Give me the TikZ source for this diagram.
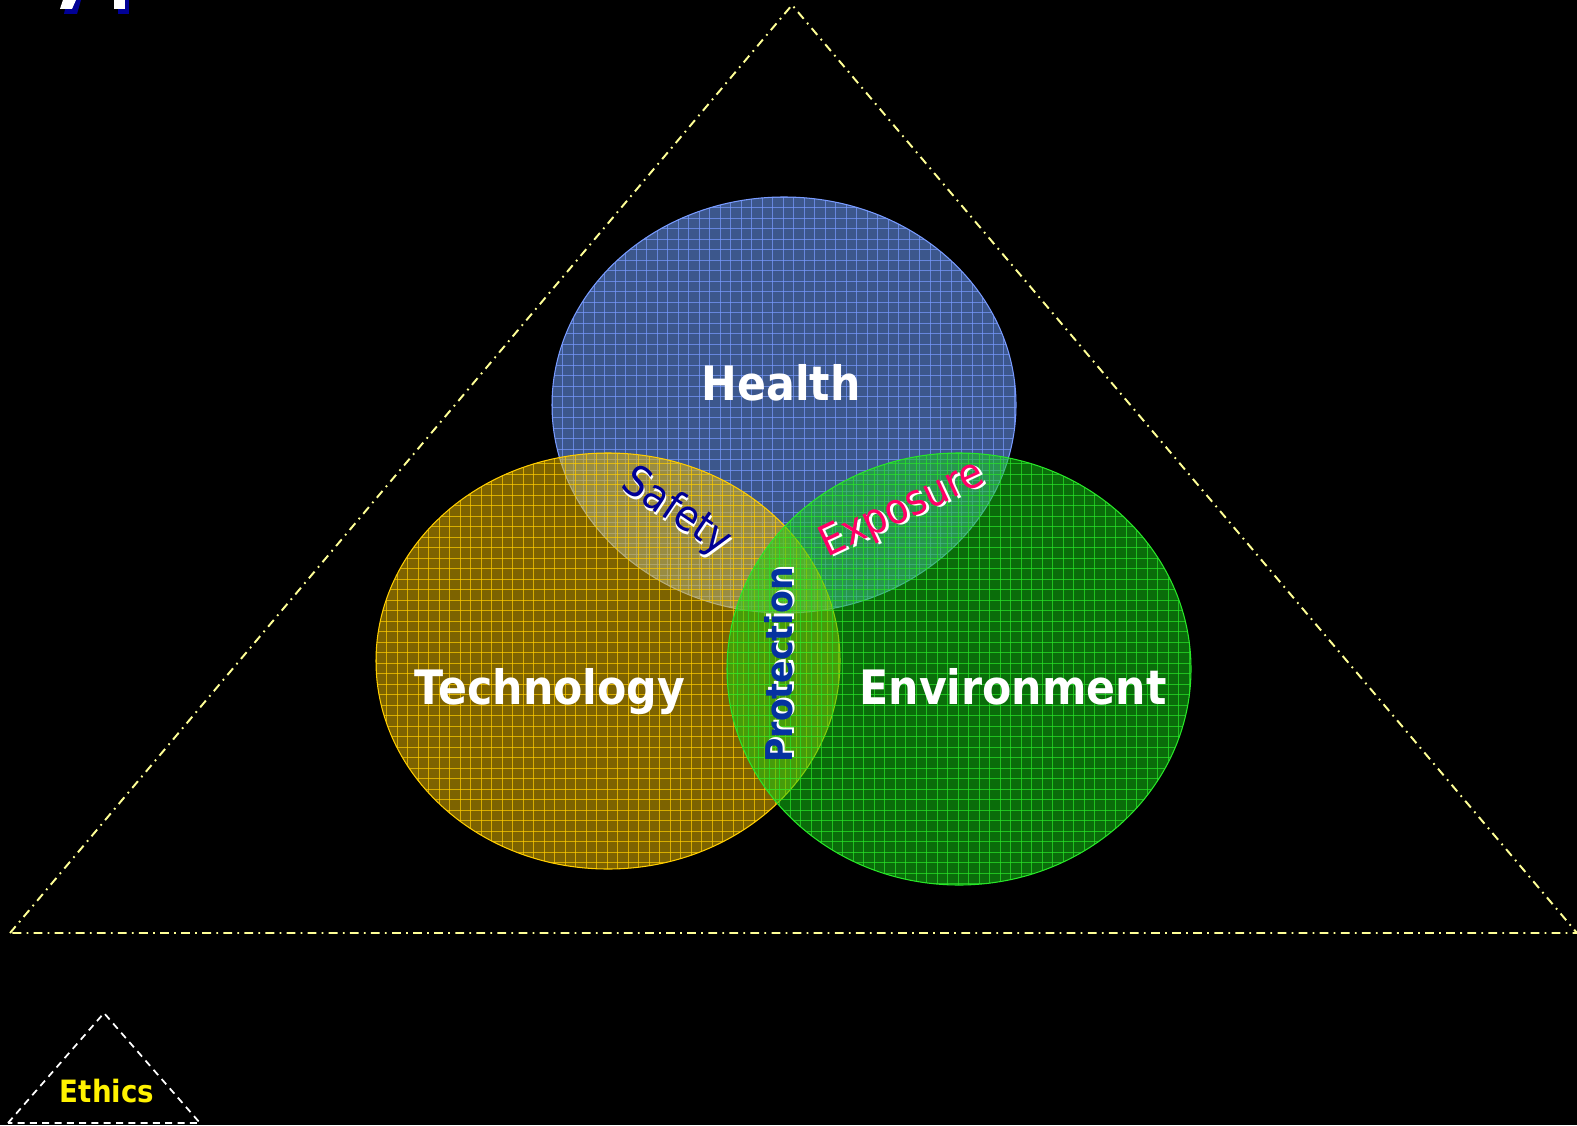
\documentclass[tikz,border=0pt]{standalone}
\usepackage{fontspec}
\newfontfamily\labelfont[FakeStretch=0.9]{DejaVu Sans}

\definecolor{healthblue}{RGB}{110,160,255}
\definecolor{healthrule}{RGB}{120,155,255}
\definecolor{techgold}{RGB}{240,190,0}
\definecolor{techrule}{RGB}{255,205,0}
\definecolor{envgreen}{RGB}{20,210,20}
\definecolor{envrule}{RGB}{40,230,40}
\definecolor{frameyellow}{RGB}{255,255,150}
\definecolor{safetyblue}{RGB}{0,0,150}
\definecolor{exposurepink}{RGB}{255,0,102}
\definecolor{protectblue}{RGB}{5,50,160}

% text with a white drop shadow behind it
\newcommand{\dropshadow}[2]{%
  \makebox[0pt][l]{\hspace{1.3pt}\raisebox{-1.3pt}{\color{white}#2}}{\color{#1}#2}}

\tikzset{
  bigframe/.style={frameyellow, line width=1.1pt, dash pattern=on 5pt off 3pt on 1pt off 3pt},
  smallframe/.style={white, line width=1pt, dash pattern=on 4pt off 3pt},
  mainlabel/.style={white, anchor=base, font=\labelfont\bfseries\fontsize{27}{32}\selectfont},
  overlap/.style={anchor=center, font=\labelfont\fontsize{24}{28}\selectfont},
}

\begin{document}
\begin{tikzpicture}[x=0.02cm, y=-0.02cm, every node/.style={inner sep=0pt}]
  % black page
  \fill[black] (0,0) rectangle (1577,1125);
  \useasboundingbox (0,0) rectangle (1577,1125);

  % bits of the heading that run off the top edge
  \fill[safetyblue] (67,0) -- (81,0) -- (77,14) -- (64,14) -- cycle;
  \fill[white] (63,0) -- (76,0) -- (72,9) -- (60,9) -- cycle;
  \fill[safetyblue] (118,0) rectangle (129,14);
  \fill[white] (114,0) rectangle (125,9);

  % outer triangle
  \coordinate (top) at (792,5);
  \coordinate (left) at (10,933);
  \coordinate (right) at (1577,933);
  \draw[bigframe] (left) -- (top) -- (right) -- cycle;

  % health
  \fill[healthblue, fill opacity=0.55] (784,405) ellipse [x radius=232, y radius=208];
  \begin{scope}
    \clip (784,405) ellipse [x radius=232, y radius=208];
    \foreach \gx in {552,562.5,...,1016}
      \draw[healthrule, opacity=0.7, line width=0.5pt] (\gx,190) -- (\gx,620);
    \foreach \gy in {197,207.5,...,613}
      \draw[healthrule, opacity=0.7, line width=0.5pt] (545,\gy) -- (1020,\gy);
  \end{scope}
  \draw[healthrule, line width=0.6pt] (784,405) ellipse [x radius=232, y radius=208];

  % technology
  \fill[techgold, fill opacity=0.52] (608,661) ellipse [x radius=232, y radius=208];
  \begin{scope}
    \clip (608,661) ellipse [x radius=232, y radius=208];
    \foreach \gx in {376,386.5,...,840}
      \draw[techrule, opacity=0.7, line width=0.5pt] (\gx,450) -- (\gx,875);
    \foreach \gy in {453,463.5,...,869}
      \draw[techrule, opacity=0.7, line width=0.5pt] (370,\gy) -- (845,\gy);
  \end{scope}
  \draw[techrule, line width=0.6pt] (608,661) ellipse [x radius=232, y radius=208];

  % environment
  \fill[envgreen, fill opacity=0.52] (959,669) ellipse [x radius=232, y radius=216];
  \begin{scope}
    \clip (959,669) ellipse [x radius=232, y radius=216];
    \foreach \gx in {727,737.5,...,1191}
      \draw[envrule, opacity=0.7, line width=0.5pt] (\gx,450) -- (\gx,890);
    \foreach \gy in {453,463.5,...,885}
      \draw[envrule, opacity=0.7, line width=0.5pt] (720,\gy) -- (1195,\gy);
  \end{scope}
  \draw[envrule, line width=0.6pt] (959,669) ellipse [x radius=232, y radius=216];

  % circle names
  \node[mainlabel] (health) at (781,400) {Health};
  \node[mainlabel] (technology) at (550,704) {Technology};
  \node[mainlabel] (environment) at (1013,704) {Environment};

  % overlaps
  \node[overlap, rotate=-34] (safety) at (676,513) {\dropshadow{safetyblue}{Safety}};
  \node[overlap, rotate=25] (exposure) at (903,511) {\dropshadow{exposurepink}{Exposure}};
  \node[overlap, rotate=90, font=\labelfont\bfseries\fontsize{21}{25}\selectfont] (protection) at (780,665) {\dropshadow{protectblue}{Protection}};

  % small triangle
  \coordinate (etop) at (104,1013);
  \coordinate (eleft) at (8,1123);
  \coordinate (eright) at (200,1123);
  \draw[smallframe] (eleft) -- (etop) -- (eright) -- cycle;
  \node[anchor=base, yellow, font=\labelfont\bfseries\fontsize{17.5}{21}\selectfont] (ethics) at (107,1102) {Ethics};
\end{tikzpicture}
\end{document}
